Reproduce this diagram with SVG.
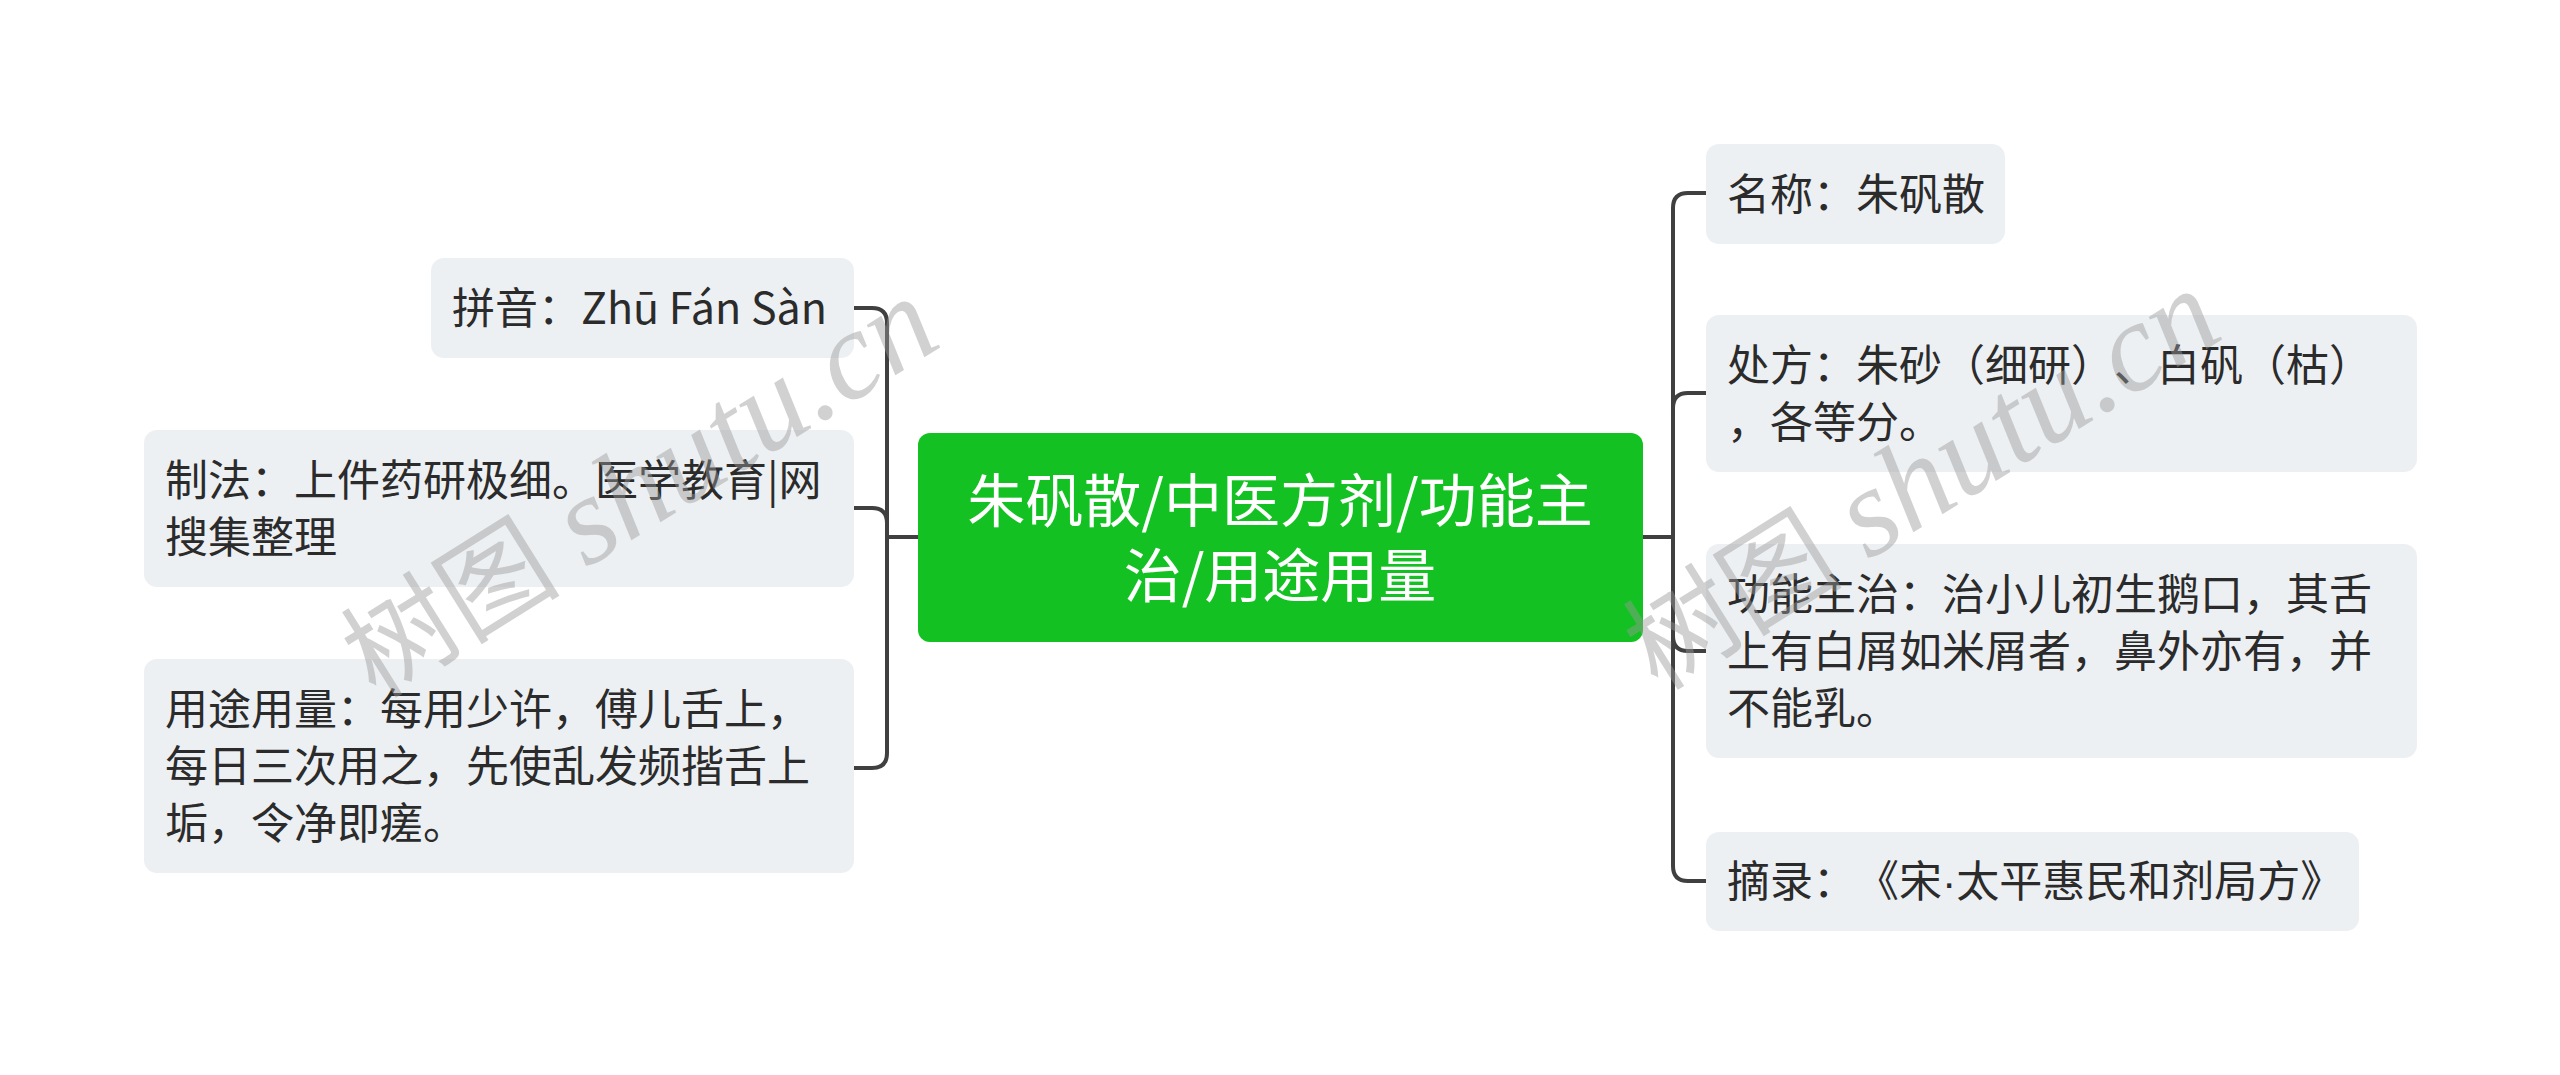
<svg xmlns="http://www.w3.org/2000/svg" width="2560" height="1075" viewBox="0 0 2560 1075">
<style>
.bg{fill:#ffffff}
.box{fill:#edf0f3}
.root{fill:#13c222}
.t{font-family:"Noto Sans CJK SC","Noto Sans",sans-serif;font-size:43px;fill:#2b2b2b;text-spacing-trim:space-all}
.rt{font-family:"Noto Sans CJK SC","Noto Sans",sans-serif;font-size:58px;fill:#ffffff;text-anchor:middle;text-spacing-trim:space-all}
.dot{font-family:"Liberation Sans",sans-serif}
.ln{fill:none;stroke:#404040;stroke-width:4;stroke-linecap:round;stroke-linejoin:round}
.wm{font-family:"Liberation Serif","Noto Sans CJK SC",serif;font-size:110px;fill:#9a9a9a;fill-opacity:0.45}
.wml{font-style:italic;font-size:126px}
</style>
<rect class="bg" x="0" y="0" width="2560" height="1075"/>
<g id="connectors">
<path class="ln" d="M 854 308 H 872 Q 887 308 887 323 V 753 Q 887 768 872 768 H 854"/>
<path class="ln" d="M 854 508 H 872 Q 887 508 887 523 V 537"/>
<path class="ln" d="M 887 537 H 918"/>
<path class="ln" d="M 1706 193 H 1688 Q 1673 193 1673 208 V 866 Q 1673 881 1688 881 H 1706"/>
<path class="ln" d="M 1706 393 H 1688 Q 1673 393 1673 408"/>
<path class="ln" d="M 1673 636 Q 1673 651 1688 651 H 1706"/>
<path class="ln" d="M 1643 537 H 1673"/>
</g>
<g id="root">
<rect class="root" x="918" y="433" width="725" height="209" rx="12"/>
<text class="rt"><tspan x="1280" y="522">朱矾散/中医方剂/功能主</tspan><tspan x="1280" y="597">治/用途用量</tspan></text>
</g>
<g id="pinyin">
<rect class="box" x="431" y="258" width="423" height="100" rx="13"/>
<text class="t" x="452" y="324">拼音：Zhū Fán Sàn</text>
</g>
<g id="zhifa">
<rect class="box" x="144" y="430" width="710" height="157" rx="13"/>
<text class="t"><tspan x="165" y="496">制法：上件药研极细。医学教育|网</tspan><tspan x="165" y="553">搜集整理</tspan></text>
</g>
<g id="yongtu">
<rect class="box" x="144" y="659" width="710" height="214" rx="13"/>
<text class="t"><tspan x="165" y="725">用途用量：每用少许，傅儿舌上，</tspan><tspan x="165" y="782">每日三次用之，先使乱发频揩舌上</tspan><tspan x="165" y="839">垢，令净即瘥。</tspan></text>
</g>
<g id="mingcheng">
<rect class="box" x="1706" y="144" width="299" height="100" rx="13"/>
<text class="t" x="1727" y="210">名称：朱矾散</text>
</g>
<g id="chufang">
<rect class="box" x="1706" y="315" width="711" height="157" rx="13"/>
<text class="t"><tspan x="1727" y="381">处方：朱砂（细研）、白矾（枯）</tspan><tspan x="1727" y="438">，各等分。</tspan></text>
</g>
<g id="gongneng">
<rect class="box" x="1706" y="544" width="711" height="214" rx="13"/>
<text class="t"><tspan x="1727" y="610">功能主治：治小儿初生鹅口，其舌</tspan><tspan x="1727" y="667">上有白屑如米屑者，鼻外亦有，并</tspan><tspan x="1727" y="724">不能乳。</tspan></text>
</g>
<g id="zhailu">
<rect class="box" x="1706" y="832" width="653" height="99" rx="13"/>
<text class="t" x="1727" y="897">摘录：《宋<tspan class="dot">·</tspan>太平惠民和剂局方》</text>
</g>
<g id="watermarks">
<text class="wm" transform="translate(376,700) rotate(-32)">树图 <tspan class="wml">shutu.cn</tspan></text>
<text class="wm" transform="translate(1658,692) rotate(-32)">树图 <tspan class="wml">shutu.cn</tspan></text>
</g>
</svg>
